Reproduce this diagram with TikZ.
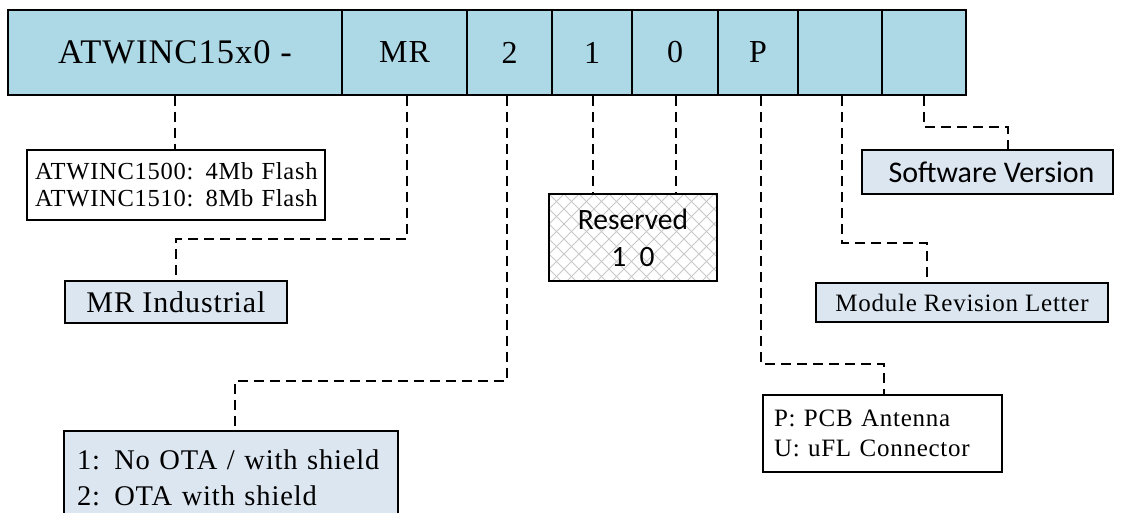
\documentclass[tikz,border=0pt]{standalone}
\usepackage{fontspec}
\newfontfamily\tms{Liberation Serif}[LetterSpace=3]
\newfontfamily\calib{Carlito}
\usetikzlibrary{calc}
\definecolor{barblue}{RGB}{173,216,230}
\definecolor{boxblue}{RGB}{220,230,241}
\definecolor{hatchgray}{RGB}{200,200,200}
\begin{document}
\begin{tikzpicture}[x=1pt,y=-1pt,
  cell/.style={draw=black, line width=1.8pt, fill=barblue, minimum height=85pt, inner sep=0pt,
    font=\tms\fontsize{32}{36}\selectfont},
  conn/.style={line width=1.5pt, dash pattern=on 10pt off 6pt},
  lbox/.style={draw=black, line width=1.6pt, inner sep=0pt},
]
\useasboundingbox (0,0) rectangle (1122,512);
\fill[white] (0,0) rectangle (1122,512);

% top bar
\node[cell, minimum width=334pt, font=\tms\fontsize{34.5}{38}\selectfont] (c1) at (175,52.5) {ATWINC15x0 -};
\node[cell, minimum width=125pt] (c2) at (404.5,52.5) {MR};
\node[cell, minimum width=85pt]  (c3) at (509.5,52.5) {2};
\node[cell, minimum width=80pt]  (c4) at (592,52.5) {1};
\node[cell, minimum width=86pt]  (c5) at (675,52.5) {0};
\node[cell, minimum width=80pt]  (c6) at (758,52.5) {P};
\node[cell, minimum width=84pt]  (c7) at (840,52.5) {};
\node[cell, minimum width=84pt]  (c8) at (924,52.5) {};

% hatch of reserved box
\begin{scope}
  \clip (549,194) rectangle (717,281);
  \foreach \k in {0,...,18} {
    \draw[hatchgray, line width=0.8pt] ({459+\k*15},194) -- ++(87,87);
    \draw[hatchgray, line width=0.8pt] ({549+\k*15},194) -- ++(-87,87);
  }
\end{scope}

% label boxes
\node[lbox, fill=white, minimum height=70pt, text width=282pt, inner xsep=8pt, align=left,
  font=\tms\fontsize{24.5}{27}\selectfont] (flash) at (176,185)
  {ATWINC1500: 4Mb Flash\\ATWINC1510: 8Mb Flash};
\node[lbox, fill=boxblue, minimum width=222pt, minimum height=42pt,
  font=\tms\fontsize{30}{32}\selectfont] (mr) at (176,302) {MR Industrial};
\node[lbox, fill=boxblue, minimum height=94pt, text width=308pt, inner xsep=13pt, align=left,
  font=\tms\fontsize{28.5}{36}\selectfont] (ota) at (231,478)
  {1: No OTA / with shield\\2: OTA with shield};
\node[lbox, minimum width=168pt, minimum height=87pt, align=center,
  font=\calib\fontsize{29.5}{37}\selectfont] (res) at (633,237.5) {Reserved\\1\ \ 0};
\node[lbox, fill=white, minimum height=77pt, text width=217pt, inner xsep=11pt, align=left,
  font=\tms\fontsize{25}{30}\selectfont] (pcb) at (882.5,433.5)
  {P: PCB Antenna\\U: uFL Connector};
\node[lbox, fill=boxblue, minimum width=292pt, minimum height=39pt,
  font=\tms\fontsize{25}{28}\selectfont] (modrev) at (962,302.5) {Module Revision Letter};
\node[lbox, fill=boxblue, minimum width=251pt, minimum height=44pt,
  font=\calib\fontsize{30}{34}\selectfont] (sw) at (987.5,172) {\hspace*{8pt}Software Version};

% connectors
\coordinate (b2) at (407,239);
\coordinate (b3) at (507,381);
\coordinate (b3e) at (235,381);
\coordinate (b4) at (593,150);
\coordinate (b5) at (676,150);
\coordinate (b6) at (761,364);
\coordinate (b6e) at (884,364);
\coordinate (b7) at (842,243);
\coordinate (b7e) at (927,243);
\coordinate (b8) at (924,127);
\coordinate (b8e) at (1008,127);

\draw[conn] (c1.south) -- (c1.south |- flash.north);
\draw[conn] (b2 |- c2.south) -- (b2) -- (b2 -| mr.north) -- (mr.north);
\draw[conn] (b3 |- c3.south) -- (b3) -- (b3e) -- (b3e |- ota.north);
\draw[conn] (b4 |- c4.south) -- (b4 |- res.north);
\draw[conn] (b5 |- c5.south) -- (b5 |- res.north);
\draw[conn] (b6 |- c6.south) -- (b6) -- (b6e) -- (b6e |- pcb.north);
\draw[conn] (b7 |- c7.south) -- (b7) -- (b7e) -- (b7e |- modrev.north);
\draw[conn] (b8 |- c8.south) -- (b8) -- (b8e) -- (b8e |- sw.north);
\end{tikzpicture}
\end{document}
